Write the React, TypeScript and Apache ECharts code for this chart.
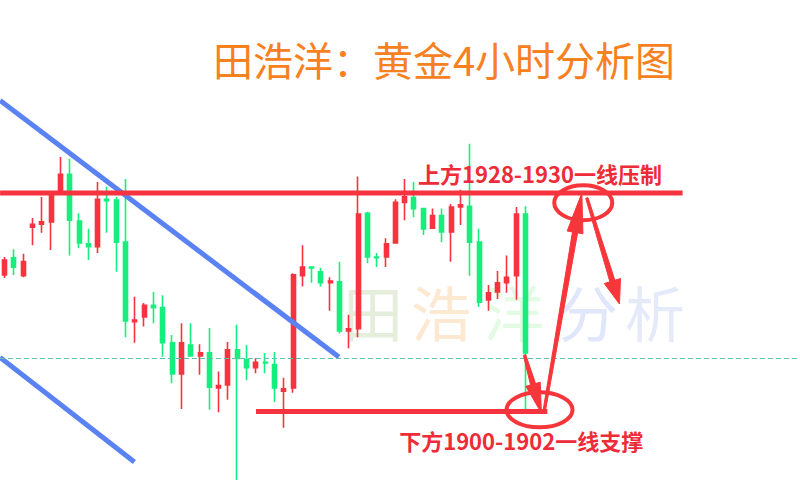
import React, { useEffect, useRef } from "react";
import * as echarts from "echarts";

// ---- candle data (4h gold), [open, close, low, high] per candle ----
const opens = [
  1918.5, 1920.7, 1918.4, 1924.6, 1925.0, 1925.3, 1929.0, 1931.4, 1925.4, 1922.5,
  1922.1, 1928.2, 1928.1, 1922.7, 1912.5, 1913.1, 1914.6, 1914.3, 1909.8, 1905.8,
  1909.5, 1908.1, 1908.5, 1904.0, 1904.4, 1908.9, 1907.6, 1906.6, 1907.3, 1907.0,
  1903.6, 1904.0, 1918.4, 1919.5, 1918.9, 1917.5, 1917.6, 1911.3, 1911.6, 1926.4,
  1920.8, 1920.8, 1922.6, 1927.8, 1928.4, 1927.0, 1924.5, 1926.1, 1924.0, 1927.2,
  1927.3, 1922.7, 1915.3, 1916.3, 1917.5, 1918.4, 1926.3,
];
const closes = [
  1920.4, 1919.5, 1920.2, 1925.0, 1925.3, 1928.7, 1931.4, 1925.5, 1922.6, 1922.1,
  1928.2, 1928.0, 1922.7, 1912.6, 1912.7, 1914.6, 1914.3, 1909.8, 1905.8, 1909.8,
  1908.1, 1908.5, 1904.1, 1904.3, 1908.9, 1907.8, 1906.6, 1907.3, 1907.2, 1904.0,
  1903.9, 1918.5, 1919.5, 1919.4, 1917.5, 1917.7, 1911.3, 1911.6, 1926.3, 1920.8,
  1920.7, 1922.5, 1927.8, 1928.5, 1927.0, 1924.4, 1926.1, 1924.0, 1927.2, 1927.5,
  1922.7, 1915.0, 1916.2, 1917.5, 1918.2, 1926.3, 1908.5,
];
const lows = [
  1918.1, 1918.5, 1918.2, 1922.3, 1923.9, 1921.7, 1928.9, 1921.0, 1921.9, 1920.4,
  1921.3, 1923.9, 1918.9, 1910.5, 1909.8, 1911.9, 1912.3, 1908.0, 1904.6, 1901.3,
  1908.0, 1905.7, 1901.2, 1900.9, 1902.5, 1892.2, 1905.0, 1905.9, 1905.9, 1902.2,
  1898.9, 1903.4, 1917.0, 1917.5, 1917.0, 1913.9, 1911.0, 1909.1, 1910.5, 1920.0,
  1919.5, 1919.5, 1922.5, 1925.5, 1925.9, 1923.6, 1924.4, 1922.7, 1920.2, 1924.9,
  1918.4, 1914.4, 1913.9, 1915.4, 1916.2, 1915.3, 1900.9,
];
const highs = [
  1920.8, 1921.8, 1921.2, 1925.8, 1928.5, 1928.8, 1933.6, 1933.4, 1926.4, 1924.4,
  1930.4, 1929.8, 1928.5, 1930.8, 1915.7, 1914.9, 1916.3, 1915.9, 1910.8, 1912.3,
  1912.3, 1909.6, 1911.7, 1906.1, 1909.9, 1912.1, 1909.5, 1907.8, 1908.5, 1908.6,
  1905.3, 1918.7, 1922.3, 1919.5, 1919.4, 1918.2, 1920.2, 1913.4, 1931.1, 1926.6,
  1921.3, 1923.2, 1928.2, 1930.8, 1930.4, 1927.0, 1927.0, 1927.0, 1927.6, 1929.4,
  1935.3, 1924.4, 1917.2, 1919.0, 1921.0, 1927.2, 1927.3,
];

// ---- axis ----
const slotCount = 86;
const slots = Array.from({ length: slotCount }, (_, i) => String(i + 1));
const priceMin = 1891.95;
const priceMax = 1953.74;

// ---- annotation levels, in [candle index, price] ----
const lastPrice = 1907.85;
const resistanceLine = [[-0.49, 1929], [72.88, 1929]];
const supportLine = [[27.02, 1901], [58.34, 1901]];
const upperChannel = [[-0.49, 1940.86], [35.93, 1907.97]];
const lowerChannel = [[-0.49, 1907.92], [13.95, 1894.51]];
const circleCenters = [[62.2, 1927.75], [57.5, 1901.2]];
const arrowFrom = [[55.89, 1908.23], [58.02, 1901.18], [62.59, 1928.36]];
const arrowTo = [[57.7, 1900.79], [62.05, 1929.0], [66.09, 1914.77]];
const noteAnchors = [[44.43, 1931.6], [42.41, 1897.3]];
const noteTexts = ["上方1928-1930一线压制", "下方1900-1902一线支撑"];

const titleText = "田浩洋：黄金4小时分析图";
const watermarkChars = ["田", "浩", "洋", "分", "析"];

const RED = "#f7333f";
const GREEN = "#16ee7e";
const BLUE = "#5a82f2";
const ANNO_RED = "#f7363b";
const FONT = "'Noto Sans CJK SC', 'Noto Sans', sans-serif";

export default function App() {
  const ref = useRef<HTMLDivElement | null>(null);

  useEffect(() => {
    if (!ref.current) return;
    const chart = echarts.init(ref.current, null, { renderer: "svg" });
    const candles = opens.map((o, i) => [o, closes[i], lows[i], highs[i]]);

    chart.setOption({
      animation: false,
      backgroundColor: "#ffffff",
      grid: { left: -6.13, top: 0, width: 809.95, height: 482 },
      xAxis: [
        { type: "category", data: slots, boundaryGap: true, show: false },
        { type: "value", min: -0.5, max: slotCount - 0.5, show: false },
      ],
      yAxis: { type: "value", min: priceMin, max: priceMax, show: false, scale: true },
      series: [
        {
          type: "candlestick",
          data: candles,
          barWidth: 4.5,
          z: 3,
          itemStyle: {
            color: RED,
            color0: GREEN,
            borderColor: RED,
            borderColor0: GREEN,
            borderWidth: 1.6,
          },
          markLine: {
            silent: true,
            symbol: ["none", "none"],
            label: { show: false },
            lineStyle: { color: "#5fbfae", width: 1, type: [5, 3] },
            data: [{ yAxis: lastPrice }],
          },
        },
        {
          type: "line",
          xAxisIndex: 1,
          data: upperChannel,
          symbol: "none",
          z: 4,
          lineStyle: { color: BLUE, width: 5 },
        },
        {
          type: "line",
          xAxisIndex: 1,
          data: lowerChannel,
          symbol: "none",
          z: 4,
          lineStyle: { color: BLUE, width: 5 },
        },
        {
          type: "line",
          xAxisIndex: 1,
          data: resistanceLine,
          symbol: "none",
          z: 4,
          lineStyle: { color: RED, width: 5 },
        },
        {
          type: "line",
          xAxisIndex: 1,
          data: supportLine,
          symbol: "none",
          z: 4,
          lineStyle: { color: RED, width: 5 },
        },
      ],
    });

    const px = (p: number[]) => chart.convertToPixel({ seriesIndex: 1 }, p) as number[];

    const arrowShape = (a: number[], b: number[], headLen: number, headHalf: number) => {
      const dx = b[0] - a[0];
      const dy = b[1] - a[1];
      const len = Math.sqrt(dx * dx + dy * dy);
      const ux = dx / len;
      const uy = dy / len;
      const nx = -uy;
      const ny = ux;
      const bx = b[0] - ux * headLen;
      const by = b[1] - uy * headLen;
      const tail = 1.2;
      const neck = 2.6;
      return [
        [a[0] + nx * tail, a[1] + ny * tail],
        [bx + nx * neck, by + ny * neck],
        [bx + nx * headHalf, by + ny * headHalf],
        [b[0], b[1]],
        [bx - nx * headHalf, by - ny * headHalf],
        [bx - nx * neck, by - ny * neck],
        [a[0] - nx * tail, a[1] - ny * tail],
      ];
    };

    const watermarkColors = ["#e4eedb", "#fde8d2", "#e2fbe2", "#e1e7fb", "#e5eafa"];
    const watermarkX = [373, 441, 514, 588, 655];
    const graphics: any[] = [];

    watermarkChars.forEach((ch, i) => {
      graphics.push({
        type: "text",
        x: watermarkX[i],
        y: 310,
        z: 0,
        silent: true,
        style: {
          text: ch,
          fill: watermarkColors[i],
          fontSize: 60,
          fontFamily: FONT,
          textAlign: "center",
          align: "center",
          textVerticalAlign: "middle",
          verticalAlign: "middle",
        },
      });
    });

    graphics.push({
      type: "text",
      x: 444,
      y: 59,
      z: 60,
      style: {
        text: titleText,
        fill: "#f7801f",
        fontSize: 40,
        fontFamily: FONT,
        textAlign: "center",
        align: "center",
        textVerticalAlign: "middle",
        verticalAlign: "middle",
      },
    });

    noteTexts.forEach((t, i) => {
      const p = px(noteAnchors[i]);
      graphics.push({
        type: "text",
        x: p[0],
        y: p[1],
        z: 60,
        style: {
          text: t,
          fill: "#ee2b38",
          fontSize: 22,
          fontWeight: "bold",
          fontFamily: FONT,
          textAlign: "left",
          align: "left",
          textVerticalAlign: "middle",
          verticalAlign: "middle",
        },
      });
    });

    const radii = [[29, 17.5], [33, 17.5]];
    circleCenters.forEach((c, i) => {
      const p = px(c);
      graphics.push({
        type: "ellipse",
        z: 60,
        shape: { cx: p[0], cy: p[1], rx: radii[i][0], ry: radii[i][1] },
        style: { fill: "none", stroke: ANNO_RED, lineWidth: 4 },
      });
    });

    const heads = [[30, 7.5], [40, 8], [24, 8.5]];
    arrowFrom.forEach((f, i) => {
      const a = px(f);
      const b = px(arrowTo[i]);
      graphics.push({
        type: "polygon",
        z: 61,
        shape: { points: arrowShape(a, b, heads[i][0], heads[i][1]) },
        style: { fill: ANNO_RED, stroke: ANNO_RED, lineWidth: 1 },
      });
    });

    chart.setOption({ graphic: graphics });

    return () => chart.dispose();
  }, []);

  return (
    <div
      ref={ref}
      style={{ position: "fixed", left: 0, top: 0, width: 800, height: 482, background: "#fff" }}
    />
  );
}
